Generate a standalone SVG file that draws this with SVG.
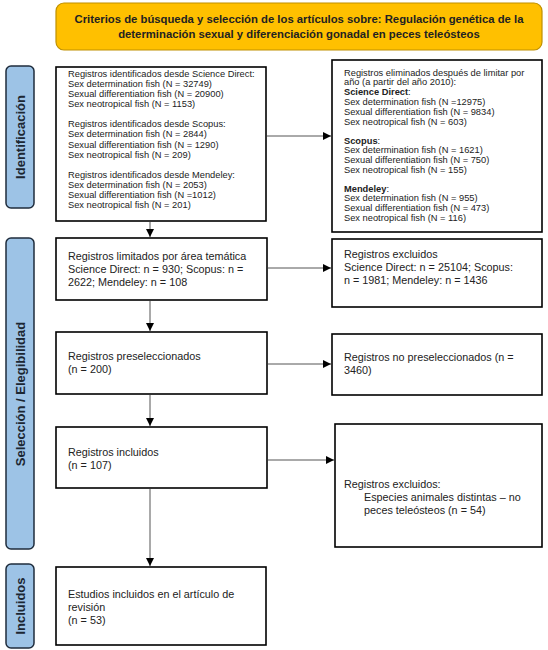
<svg xmlns="http://www.w3.org/2000/svg" width="548" height="650" viewBox="0 0 548 650">
<defs>
<marker id="ah" viewBox="0 0 10 10" refX="10" refY="5" markerWidth="8" markerHeight="8" markerUnits="userSpaceOnUse" orient="auto">
<path d="M0,0 L10,5 L0,10 z" fill="#000"/>
</marker>
<style>
.box{fill:#fff;stroke:#000;stroke-width:1.6}
.lab{fill:#9dc3e6;stroke:#1f2d3d;stroke-width:1.5}
.lt{font-family:"Liberation Sans",Arial,sans-serif;font-weight:bold;font-size:13px;fill:#1c2733;text-anchor:middle}
.s{font-family:"Liberation Sans",Arial,sans-serif;font-size:9.3px;fill:#222}
.sb{font-weight:bold}
.m{font-family:"Liberation Sans",Arial,sans-serif;font-size:10.8px;fill:#222}
.t{font-family:"Liberation Sans",Arial,sans-serif;font-weight:bold;font-size:11.3px;fill:#222;text-anchor:middle}
.c{fill:none;stroke:#555;stroke-width:1}
</style>
</defs>
<g id="title">
<rect x="56" y="3" width="486" height="47" rx="8" fill="#ffc000" stroke="#bf9000" stroke-width="1.2"/>
<text class="t" x="299" y="23">Criterios de búsqueda y selección de los artículos sobre: Regulación genética de la</text>
<text class="t" x="299" y="38">determinación sexual y diferenciación gonadal en peces teleósteos</text>
</g>
<g id="label-identificacion">
<rect class="lab" x="6" y="66" width="28" height="142" rx="5"/>
<text class="lt" transform="translate(24.5,137) rotate(-90)">Identificación</text>
</g>
<g id="label-seleccion">
<rect class="lab" x="6" y="238" width="28" height="311" rx="5"/>
<text class="lt" transform="translate(24.5,394) rotate(-90)">Selección / Elegibilidad</text>
</g>
<g id="label-incluidos">
<rect class="lab" x="6" y="564" width="28" height="84" rx="5"/>
<text class="lt" transform="translate(24.5,606) rotate(-90)">Incluidos</text>
</g>
<g id="identificados">
<rect class="box" x="56" y="67" width="210" height="154"/>
<text class="s" x="68" y="76.5">Registros identificados desde Science Direct:</text>
<text class="s" x="68" y="86.8">Sex determination fish (N = 32749)</text>
<text class="s" x="68" y="97.1">Sexual differentiation fish (N = 20900)</text>
<text class="s" x="68" y="107.4">Sex neotropical fish (N = 1153)</text>
<text class="s" x="68" y="127">Registros identificados desde Scopus:</text>
<text class="s" x="68" y="137.3">Sex determination fish (N = 2844)</text>
<text class="s" x="68" y="147.6">Sexual differentiation fish (N = 1290)</text>
<text class="s" x="68" y="157.9">Sex neotropical fish (N = 209)</text>
<text class="s" x="68" y="177.5">Registros identificados desde Mendeley:</text>
<text class="s" x="68" y="187.8">Sex determination fish (N = 2053)</text>
<text class="s" x="68" y="198.1">Sexual differentiation fish (N =1012)</text>
<text class="s" x="68" y="208.4">Sex neotropical fish (N = 201)</text>
</g>
<g id="eliminados">
<rect class="box" x="332" y="60" width="210" height="172"/>
<text class="s" x="344" y="75.5">Registros eliminados después de limitar por</text>
<text class="s" x="344" y="85.3">año (a partir del año 2010):</text>
<text class="s sb" x="344" y="95.1">Science Direct<tspan font-weight="normal">:</tspan></text>
<text class="s" x="344" y="104.9">Sex determination fish (N =12975)</text>
<text class="s" x="344" y="114.7">Sexual differentiation fish (N = 9834)</text>
<text class="s" x="344" y="124.5">Sex neotropical fish (N = 603)</text>
<text class="s sb" x="344" y="143.5">Scopus<tspan font-weight="normal">:</tspan></text>
<text class="s" x="344" y="153.3">Sex determination fish (N = 1621)</text>
<text class="s" x="344" y="163.1">Sexual differentiation fish (N = 750)</text>
<text class="s" x="344" y="172.9">Sex neotropical fish (N = 155)</text>
<text class="s sb" x="344" y="191.5">Mendeley<tspan font-weight="normal">:</tspan></text>
<text class="s" x="344" y="201.3">Sex determination fish (N = 955)</text>
<text class="s" x="344" y="211.1">Sexual differentiation fish (N = 473)</text>
<text class="s" x="344" y="220.9">Sex neotropical fish (N = 116)</text>
</g>
<g id="limitados">
<rect class="box" x="56" y="238" width="211" height="62"/>
<text class="m" x="68" y="260">Registros limitados por área temática</text>
<text class="m" x="68" y="273">Science Direct: n = 930; Scopus: n =</text>
<text class="m" x="68" y="286">2622; Mendeley: n = 108</text>
</g>
<g id="excluidos1">
<rect class="box" x="332" y="239" width="210" height="68"/>
<text class="m" x="344" y="258">Registros excluidos</text>
<text class="m" x="344" y="271">Science Direct: n = 25104; Scopus:</text>
<text class="m" x="344" y="284">n = 1981; Mendeley: n = 1436</text>
</g>
<g id="preseleccionados">
<rect class="box" x="56" y="332" width="211" height="62"/>
<text class="m" x="68" y="360">Registros preseleccionados</text>
<text class="m" x="68" y="373">(n = 200)</text>
</g>
<g id="no-preseleccionados">
<rect class="box" x="332" y="334" width="210" height="61"/>
<text class="m" x="344" y="361">Registros no preseleccionados (n =</text>
<text class="m" x="344" y="374">3460)</text>
</g>
<g id="incluidos">
<rect class="box" x="56" y="427" width="211" height="61"/>
<text class="m" x="68" y="456">Registros incluidos</text>
<text class="m" x="68" y="469">(n = 107)</text>
</g>
<g id="excluidos2">
<rect class="box" x="335" y="424" width="207" height="123"/>
<text class="m" x="344" y="488">Registros excluidos:</text>
<text class="m" x="364" y="501">Especies animales distintas – no</text>
<text class="m" x="364" y="514">peces teleósteos (n = 54)</text>
</g>
<g id="estudios">
<rect class="box" x="56" y="567" width="210" height="78"/>
<text class="m" x="68" y="598">Estudios incluidos en el artículo de</text>
<text class="m" x="68" y="611">revisión</text>
<text class="m" x="68" y="624">(n = 53)</text>
</g>
<g id="connectors">
<line class="c" x1="267" y1="136" x2="331" y2="136" marker-end="url(#ah)"/>
<line class="c" x1="150" y1="222" x2="150" y2="237" marker-end="url(#ah)"/>
<line class="c" x1="268" y1="268" x2="331" y2="268" marker-end="url(#ah)"/>
<line class="c" x1="150" y1="301" x2="150" y2="331" marker-end="url(#ah)"/>
<line class="c" x1="268" y1="364" x2="331" y2="364" marker-end="url(#ah)"/>
<line class="c" x1="150" y1="395" x2="150" y2="426" marker-end="url(#ah)"/>
<line class="c" x1="268" y1="460" x2="334" y2="460" marker-end="url(#ah)"/>
<line class="c" x1="150" y1="489" x2="150" y2="566" marker-end="url(#ah)"/>
</g>
</svg>
